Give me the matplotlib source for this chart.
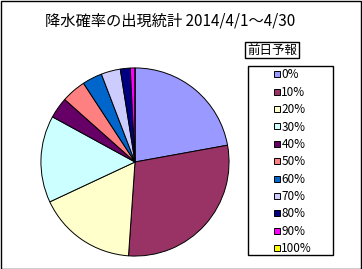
import matplotlib
matplotlib.use("Agg")
import matplotlib.pyplot as plt
from matplotlib.patches import Rectangle
from matplotlib.lines import Line2D

plt.rcParams["font.family"] = ["Noto Sans CJK JP", "DejaVu Sans"]

# share of days per forecast probability (%)
categories = ["0%", "10%", "20%", "30%", "40%", "50%", "60%", "70%", "80%", "90%", "100%"]
shares = [22.1, 28.9, 16.9, 14.9, 3.6, 4.2, 3.4, 3.3, 1.7, 0.8, 0.0]
colors = ["#9999FF", "#993366", "#FFFFCC", "#CCFFFF", "#660066", "#FF8080",
          "#0066CC", "#CCCCFF", "#000080", "#FF00FF", "#FFFF00"]

title = "降水確率の出現統計 2014/4/1～4/30"
legend_title = "前日予報"

W, H = 362, 269
fig = plt.figure(figsize=(W / 100, H / 100), dpi=100)

# outer chart border
fig.patches.append(Rectangle((0.5 / W, 0.5 / H), 1 - 1.5 / W, 1 - 1.5 / H,
                             transform=fig.transFigure, fill=False,
                             edgecolor="black", lw=1))

# pie: centre (135,162) px, radius 95 px
cx, cy, r = 135, 162, 95
ax = fig.add_axes([(cx - r) / W, (H - cy - r) / H, 2 * r / W, 2 * r / H])
ax.pie(shares, colors=colors, startangle=90, counterclock=False,
       wedgeprops=dict(edgecolor="black", linewidth=0.7))
ax.set_xlim(-1.01, 1.01)
ax.set_ylim(-1.01, 1.01)
ax.set_aspect("auto")
ax.axis("off")

fig.text(170 / W, 1 - 21 / H, title, ha="center", va="center", fontsize=11)

# legend title box
fig.text(272 / W, 1 - 50 / H, legend_title, ha="center", va="center", fontsize=9,
         bbox=dict(boxstyle="square,pad=0.15", fc="white", ec="black", lw=1))

# legend frame
fig.patches.append(Rectangle((248 / W, 1 - 255 / H), 85 / W, 189 / H,
                             transform=fig.transFigure, fill=False,
                             edgecolor="black", lw=1))

handles = [Line2D([], [], marker="s", ls="none", markersize=5,
                  markerfacecolor=c, markeredgecolor="black", markeredgewidth=0.7)
           for c in colors]
leg = fig.legend(handles, categories, loc="upper left",
                 bbox_to_anchor=(273 / W, 1 - 68.5 / H), frameon=False,
                 fontsize=8.5, labelspacing=0.37, handlelength=0.7,
                 handletextpad=0.0, borderpad=0, borderaxespad=0)

fig.savefig("out.png", dpi=100)
